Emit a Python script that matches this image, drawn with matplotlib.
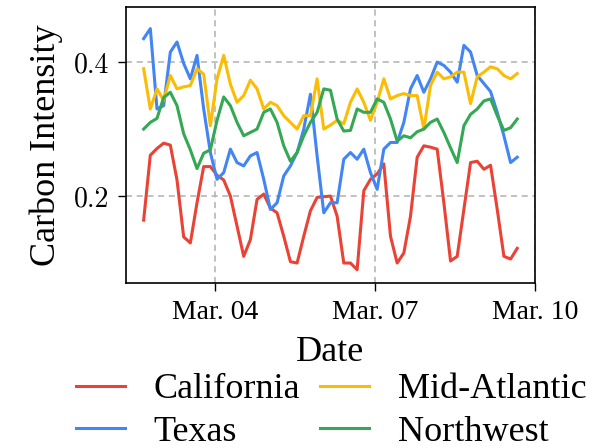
import pandas as pd
import matplotlib.pyplot as plt
import matplotlib.dates as mdates

# Daten: 3-stuendliche Werte, 02.03. 16:00 bis 09.03. 16:00
zeit = pd.date_range('2023-03-02 16:00', periods=57, freq='3h')

california = [0.164, 0.261, 0.271, 0.279, 0.276, 0.224, 0.139, 0.13, 0.19, 0.244,
              0.244, 0.231, 0.224, 0.20, 0.155, 0.11, 0.135, 0.195, 0.203, 0.182,
              0.175, 0.14, 0.102, 0.10, 0.14, 0.178, 0.198, 0.199, 0.20, 0.17,
              0.10, 0.10, 0.09, 0.208, 0.225, 0.233, 0.248, 0.14, 0.10, 0.115,
              0.17, 0.258, 0.275, 0.273, 0.27, 0.19, 0.103, 0.11, 0.18, 0.25,
              0.252, 0.24, 0.246, 0.18, 0.11, 0.106, 0.122]

texas = [0.435, 0.45, 0.33, 0.335, 0.415, 0.43, 0.398, 0.375, 0.41, 0.33,
         0.265, 0.225, 0.235, 0.27, 0.25, 0.245, 0.26, 0.265, 0.225, 0.18,
         0.19, 0.23, 0.245, 0.265, 0.30, 0.352, 0.26, 0.175, 0.19, 0.19,
         0.255, 0.265, 0.255, 0.27, 0.235, 0.21, 0.27, 0.28, 0.28, 0.31,
         0.36, 0.38, 0.355, 0.375, 0.40, 0.395, 0.385, 0.37, 0.425, 0.415,
         0.38, 0.368, 0.356, 0.325, 0.29, 0.25, 0.258]

mid_atlantic = [0.39, 0.33, 0.36, 0.343, 0.38, 0.36, 0.363, 0.365, 0.39, 0.382,
                0.305, 0.375, 0.41, 0.367, 0.34, 0.35, 0.373, 0.36, 0.33, 0.34,
                0.335, 0.32, 0.31, 0.30, 0.32, 0.32, 0.375, 0.30, 0.306, 0.313,
                0.308, 0.34, 0.36, 0.34, 0.313, 0.34, 0.375, 0.345, 0.35, 0.353,
                0.35, 0.35, 0.30, 0.365, 0.385, 0.375, 0.378, 0.385, 0.385, 0.338,
                0.378, 0.385, 0.393, 0.39, 0.38, 0.375, 0.383]

northwest = [0.30, 0.31, 0.316, 0.347, 0.355, 0.335, 0.293, 0.269, 0.241, 0.264,
             0.269, 0.313, 0.348, 0.335, 0.31, 0.29, 0.295, 0.30, 0.325, 0.33,
             0.31, 0.275, 0.252, 0.265, 0.29, 0.31, 0.325, 0.36, 0.358, 0.315,
             0.297, 0.298, 0.33, 0.325, 0.325, 0.345, 0.34, 0.315, 0.282, 0.29,
             0.287, 0.296, 0.30, 0.31, 0.315, 0.295, 0.272, 0.25, 0.305, 0.322,
             0.33, 0.342, 0.345, 0.32, 0.298, 0.302, 0.315]

x_ticks = pd.to_datetime(['2023-03-04', '2023-03-07', '2023-03-10'])
y_ticks = [0.2, 0.4]

plt.rcParams['font.family'] = ['Liberation Serif', 'DejaVu Serif']

fig = plt.figure(figsize=(6.08, 4.48), dpi=100)
ax = fig.add_axes([0.207, 0.368, 0.673, 0.616])

ax.plot(zeit, california, color='#EA4335', lw=2.2, label='California')
ax.plot(zeit, texas, color='#4285F4', lw=2.2, label='Texas')
ax.plot(zeit, mid_atlantic, color='#FBBC05', lw=2.2, label='Mid-Atlantic')
ax.plot(zeit, northwest, color='#34A853', lw=2.2, label='Northwest')

ax.set_xlim(pd.Timestamp('2023-03-02 08:00'), pd.Timestamp('2023-03-10 00:00'))
ax.set_ylim(0.07, 0.482)
ax.set_xticks(x_ticks)
ax.xaxis.set_major_formatter(mdates.DateFormatter('%b. %d'))
ax.set_yticks(y_ticks)
ax.set_yticklabels(['%.1f' % v for v in y_ticks], fontfamily='cmr10')
ax.tick_params(labelsize=20, length=6, width=1, pad=6)
ax.grid(True, color='#b0b0b0', linestyle=(0, (4, 3)), linewidth=1.1)
for s in ax.spines.values():
    s.set_linewidth(1.2)

ax.set_xlabel('Date', fontsize=26, labelpad=8)
ax.set_ylabel('Carbon Intensity', fontsize=26, labelpad=8)

h, l = ax.get_legend_handles_labels()
fig.legend(h, l, loc='center', bbox_to_anchor=(0.545, 0.083), ncol=2, frameon=False,
           fontsize=26, handlelength=1.35, handletextpad=0.8, columnspacing=0.55,
           labelspacing=0.25, borderpad=0)

plt.savefig('out.png', dpi=100)
